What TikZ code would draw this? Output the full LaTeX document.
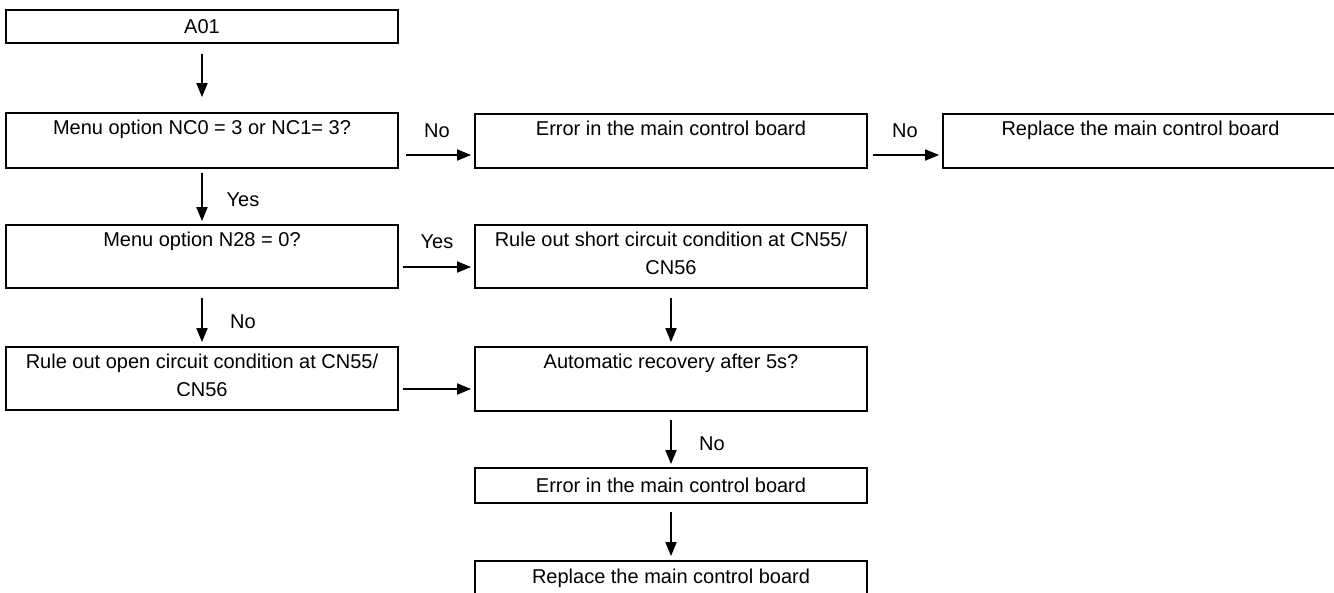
\documentclass[tikz,border=0pt]{standalone}
\usepackage{fontspec}
\setmainfont{Liberation Sans}
\usetikzlibrary{arrows.meta}
\newcommand\tstrut{\rule{0pt}{16pt}}
\begin{document}
\begin{tikzpicture}[x=1pt,y=-1pt,
  box/.style={draw=black, line width=1.8pt, inner sep=0pt, minimum width=392pt,
    font=\fontsize{20}{28}\selectfont},
  lab/.style={anchor=north, inner sep=0pt, align=center, yshift=-6pt,
    font=\fontsize{20}{28}\selectfont},
  lbl/.style={anchor=base, inner sep=0pt, font=\fontsize{20}{28}\selectfont},
  arr/.style={draw=black, line width=1.8pt, -{Triangle[length=14pt,width=11pt]}}]
\useasboundingbox (0,0) rectangle (1334,592);
\clip (0,0) rectangle (1334,592);
% boxes
\node[box, minimum height=33pt] (a01) at (202,26.5) {A01};
\node[box, minimum height=55pt, label={[lab]north:\tstrut Menu option NC0 = 3 or NC1= 3?}] (nc) at (202,140.5) {};
\node[box, minimum height=54pt, label={[lab]north:\tstrut Error in the main control board}] (err1) at (671,141) {};
\node[box, minimum height=54pt, minimum width=395pt, label={[lab]north:\tstrut Replace the main control board}] (rep1) at (1140.5,141) {};
\node[box, minimum height=63pt, label={[lab]north:\tstrut Menu option N28 = 0?}] (n28) at (202,256.5) {};
\node[box, minimum height=63pt, label={[lab]north:\tstrut Rule out short circuit condition at CN55/\\CN56}] (short) at (671,256.5) {};
\node[box, minimum height=63pt, label={[lab]north:\tstrut Rule out open circuit condition at CN55/\\CN56}] (open) at (202,378.5) {};
\node[box, minimum height=64pt, label={[lab]north:\tstrut Automatic recovery after 5s?}] (auto) at (671,379) {};
\node[box, minimum height=35pt] (err2) at (671,485.5) {Error in the main control board};
\node[box, minimum height=35pt] (rep2) at (671,578.5) {Replace the main control board};
% connectors
\draw[arr, shorten <=10pt, shorten >=15pt] (a01) -- (nc);
\draw[arr, shorten <=4pt, shorten >=3pt] (nc) -- (n28);
\draw[arr, shorten <=9pt, shorten >=4pt] (n28) -- (open);
\draw[arr, shorten <=9pt, shorten >=4pt] (short) -- (auto);
\draw[arr, shorten <=8pt, shorten >=3pt] (auto) -- (err2);
\draw[arr, shorten <=8pt, shorten >=4pt] (err2) -- (rep2);
\draw[arr, shorten <=7pt, shorten >=3pt] ([yshift=-14.5pt]nc.east) -- ([yshift=-14pt]err1.west);
\draw[arr, shorten <=5pt, shorten >=3pt] ([yshift=-14pt]err1.east) -- ([yshift=-14pt]rep1.west);
\draw[arr, shorten <=4pt, shorten >=3pt] ([yshift=-10.5pt]n28.east) -- ([yshift=-10.5pt]short.west);
\draw[arr, shorten <=4pt, shorten >=3pt] ([yshift=-10.5pt]open.east) -- ([yshift=-10pt]auto.west);
% connector labels
\node[lbl] (lno1) at (437,137) {No};
\node[lbl] (lno2) at (905,137) {No};
\node[lbl] (lyes1) at (243,206) {Yes};
\node[lbl] (lyes2) at (437,248) {Yes};
\node[lbl] (lno3) at (243,328) {No};
\node[lbl] (lno4) at (712,450) {No};
\end{tikzpicture}
\end{document}
